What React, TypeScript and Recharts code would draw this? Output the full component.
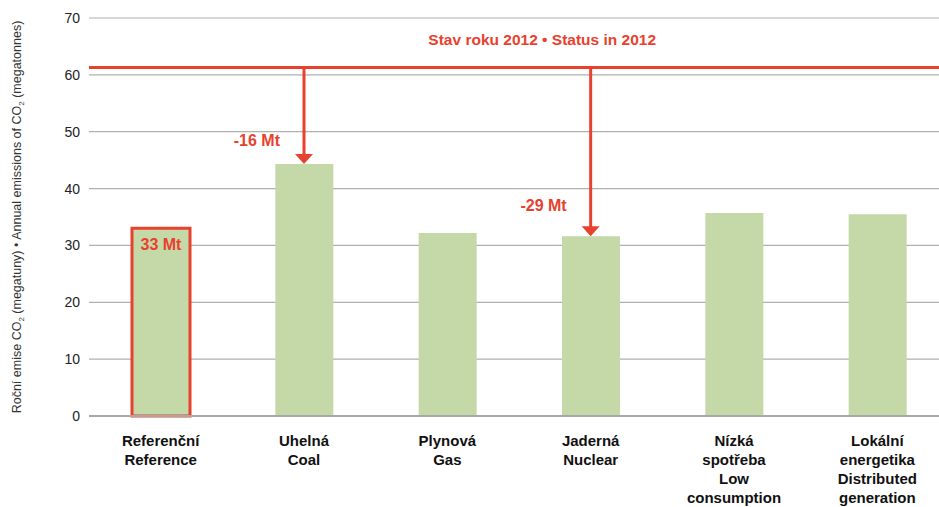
import React from 'react';
import { BarChart, Bar, XAxis, YAxis, CartesianGrid, ReferenceLine, Cell, LabelList } from 'recharts';

const categories = [
  'Referenční\nReference',
  'Uhelná\nCoal',
  'Plynová\nGas',
  'Jaderná\nNuclear',
  'Nízká\nspotřeba\nLow\nconsumption',
  'Lokální\nenergetika\nDistributed\ngeneration',
];
const emissions = [33.0, 44.3, 32.2, 31.6, 35.7, 35.5];
const status2012 = 61.3;
const yTicks = [0, 10, 20, 30, 40, 50, 60, 70];
const statusLabel = 'Stav roku 2012 • Status in 2012';
const referenceLabel = '33 Mt';
const arrowTargets = [1, 3];
const arrowLabels = ['-16 Mt', '-29 Mt'];
const arrowLabelOffsets = [-24, -31];

const data = categories.map((c, i) => ({ name: c, value: emissions[i] }));

const RED = '#e8412e';
const GREEN = '#c5d8a8';
const FONT = '"Liberation Sans", Arial, Helvetica, sans-serif';

const CategoryTick = (props: any) => {
  const { x, y, payload } = props;
  const lines = String(payload.value).split('\n');
  return (
    <text x={x} y={y} textAnchor="middle" fontFamily={FONT} fontSize={15} fontWeight="bold" fill="#111">
      {lines.map((l, i) => (
        <tspan key={i} x={x} dy={i === 0 ? 22 : 19}>{l}</tspan>
      ))}
    </text>
  );
};

const YLabel = (props: any) => {
  const vb = props.viewBox || {};
  const cy = vb.y + vb.height / 2;
  const cx = 21;
  return (
    <text x={cx} y={cy} transform={`rotate(-90, ${cx}, ${cy})`} textAnchor="middle" fontFamily={FONT} fontSize={12.5} fill="#333">
      <tspan>Roční emise CO</tspan>
      <tspan fontSize={8} dy={3}>2</tspan>
      <tspan dy={-3}> (megatuny) • Annual emissions of CO</tspan>
      <tspan fontSize={8} dy={3}>2</tspan>
      <tspan dy={-3}> (megatonnes)</tspan>
    </text>
  );
};

const StatusLabel = (props: any) => {
  const vb = props.viewBox || {};
  return (
    <text x={vb.x + vb.width * 0.527} y={vb.y - 22} textAnchor="middle" fontFamily={FONT} fontSize={15.5} fontWeight="bold" fill={RED}>
      {statusLabel}
    </text>
  );
};

const makeArrow = (idx: number) => (p: any) => {
  const { x1, y1, x2, y2 } = p;
  const top = Math.min(y1, y2);
  const bottom = Math.max(y1, y2);
  const ah = 10;
  const aw = 9;
  return (
    <g>
      <line x1={x1} y1={top} x2={x1} y2={bottom - ah + 1} stroke={RED} strokeWidth={3} />
      <polygon points={`${x1 - aw},${bottom - ah} ${x1 + aw},${bottom - ah} ${x1},${bottom}`} fill={RED} />
      <text x={x1 - 24} y={bottom + arrowLabelOffsets[idx] + 6} textAnchor="end" fontFamily={FONT} fontSize={16} fontWeight="bold" fill={RED}>
        {arrowLabels[idx]}
      </text>
    </g>
  );
};

const RefBarLabel = (props: any) => {
  const { x, y, width, index } = props;
  if (index !== 0) return null;
  return (
    <text x={x + width / 2} y={y + 22} textAnchor="middle" fontFamily={FONT} fontSize={16} fontWeight="bold" fill={RED}>
      {referenceLabel}
    </text>
  );
};

export default function App() {
  return (
    <div style={{ position: 'absolute', left: 0, top: 0, width: 939, height: 507, overflow: 'hidden', background: '#fff' }}>
      <BarChart width={949} height={507} data={data} margin={{ top: 18, right: 0, bottom: 0, left: 0 }}>
        <CartesianGrid vertical={false} stroke="#b0b0b0" strokeWidth={1.2} />
        <XAxis
          dataKey="name"
          height={91}
          interval={0}
          tickLine={false}
          axisLine={{ stroke: '#a8a8a8', strokeWidth: 2 }}
          tick={<CategoryTick />}
        />
        <YAxis
          width={89}
          domain={[0, 70]}
          ticks={yTicks}
          tickLine={false}
          axisLine={false}
          tick={{ fontFamily: FONT, fontSize: 14, fill: '#222', dx: -1 }}
          label={{ content: <YLabel /> }}
        />
        <Bar dataKey="value" barSize={58} isAnimationActive={false}>
          {data.map((d, i) => (
            <Cell key={i} fill={GREEN} stroke={i === 0 ? RED : 'none'} strokeWidth={i === 0 ? 3 : 0} />
          ))}
          <LabelList dataKey="value" content={<RefBarLabel />} />
        </Bar>
        <ReferenceLine y={status2012} stroke={RED} strokeWidth={3} label={{ content: <StatusLabel /> }} />
        {arrowTargets.map((t, k) => (
          <ReferenceLine
            key={k}
            segment={[{ x: categories[t], y: status2012 }, { x: categories[t], y: emissions[t] }]}
            stroke={RED}
            shape={makeArrow(k)}
          />
        ))}
      </BarChart>
    </div>
  );
}
